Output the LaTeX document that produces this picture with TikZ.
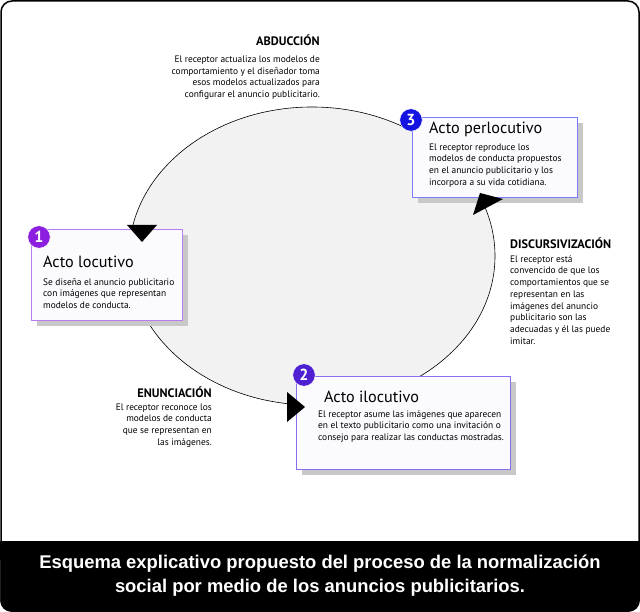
\documentclass[tikz,border=0pt]{standalone}
\usepackage{fontspec}
\setmainfont{PT Sans}
\newfontfamily\capfont{Liberation Sans}
\usetikzlibrary{shadows,shapes.geometric}
\definecolor{ellgray}{HTML}{F2F2F2}
\definecolor{shgray}{HTML}{C8C8C8}
\definecolor{boxfill}{HTML}{FBFAFC}
\definecolor{bordA}{HTML}{B77CF0}
\definecolor{bordB}{HTML}{8A6CEE}
\definecolor{bordC}{HTML}{7C7CFF}
\definecolor{badgeA}{HTML}{8C1EE0}
\definecolor{badgeB}{HTML}{4F20D2}
\definecolor{badgeC}{HTML}{1414E2}
\tikzset{
  actbox/.style={draw, line width=0.8pt, fill=boxfill, anchor=north west, inner sep=0pt,
    general shadow={fill=shgray, shadow xshift=6pt, shadow yshift=-6pt}},
  badge/.style={circle, draw=white, line width=0.5pt, minimum size=22.5pt, inner sep=0pt,
    text=white, font=\bfseries\fontsize{16}{16}\selectfont},
  acttitle/.style={anchor=base west, inner sep=0pt, font=\fontsize{16.2}{18}\selectfont},
  bodytxt/.style={inner sep=0pt, font=\fontsize{9.4}{11.7}\selectfont},
  headtxt/.style={inner sep=0pt, font=\bfseries\fontsize{12.3}{14}\selectfont},
  arrowtri/.style={fill=black}
}
\begin{document}
\begin{tikzpicture}[x=1pt,y=-1pt]
\useasboundingbox (0,0) rectangle (640,612);
% frame
\draw[line width=1.5pt, fill=white, rounded corners=11pt] (1,1) rectangle (639,611);
\fill[black, rounded corners=11pt] (0.25,541) rectangle (639.75,611.75);
\fill[black] (0.25,541) rectangle (639.75,560);
\node[text=white, align=center, inner sep=0pt, font=\capfont\bfseries\fontsize{18.4}{24}\selectfont] (caption) at (320,576)
  {Esquema explicativo propuesto del proceso de la normalización\\social por medio de los anuncios publicitarios.};
% cycle
\node[ellipse, draw, line width=0.6pt, fill=ellgray, minimum width=366pt, minimum height=298pt, inner sep=0pt] (cycle) at (312,256) {};
% boxes
\node[actbox, draw=bordA, minimum width=151pt, minimum height=91pt] (box1) at (31,229) {};
\node[actbox, draw=bordB, minimum width=214pt, minimum height=93pt] (box2) at (296,376) {};
\node[actbox, draw=bordC, minimum width=165pt, minimum height=80pt] (box3) at (412,117) {};
% badges
\node[badge, fill=badgeA] (b1) at (39,237) {1};
\node[badge, fill=badgeB] (b2) at (304,375) {2};
\node[badge, fill=badgeC] (b3) at (411,120) {3};
% arrowheads
\fill[arrowtri] (127,225) -- (157,225) -- (142,242) -- cycle;
\fill[arrowtri] (287,392) -- (305,407) -- (287,422) -- cycle;
\fill[arrowtri] (473,215) -- (503,199) -- (480,193) -- cycle;
% titles
\node[acttitle] (t1) at (43,268) {Acto locutivo};
\node[acttitle] (t2) at (324,402) {Acto ilocutivo};
\node[acttitle] (t3) at (429,134) {Acto perlocutivo};
% box texts
\node[bodytxt, anchor=north west, align=left] (d1) at (43,278.3)
  {Se diseña el anuncio publicitario\\con imágenes que representan\\modelos de conducta.};
\node[bodytxt, anchor=north west, align=left] (d2) at (318,410.3)
  {El receptor asume las imágenes que aparecen\\en el texto publicitario como una invitación o\\consejo para realizar las conductas mostradas.};
\node[bodytxt, anchor=north west, align=left] (d3) at (429,143.3)
  {El receptor reproduce los\\modelos de conducta propuestos\\en el anuncio publicitario y los\\incorpora a su vida cotidiana.};
% side labels
\node[headtxt, anchor=base east] (h1) at (320,46) {ABDUCCIÓN};
\node[bodytxt, anchor=north east, align=right] (s1) at (320,55.5)
  {El receptor actualiza los modelos de\\comportamiento y el diseñador toma\\esos modelos actualizados para\\configurar el anuncio publicitario.};
\node[headtxt, anchor=base west] (h2) at (510,249) {DISCURSIVIZACIÓN};
\node[bodytxt, anchor=north west, align=left] (s2) at (510,255.3)
  {El receptor está\\convencido de que los\\comportamientos que se\\representan en las\\imágenes del anuncio\\publicitario son las\\adecuadas y él las puede\\imitar.};
\node[headtxt, anchor=base east] (h3) at (212,397) {ENUNCIACIÓN};
\node[bodytxt, anchor=north east, align=right] (s3) at (212,403.3)
  {El receptor reconoce los\\modelos de conducta\\que se representan en\\las imágenes.};
\end{tikzpicture}
\end{document}
